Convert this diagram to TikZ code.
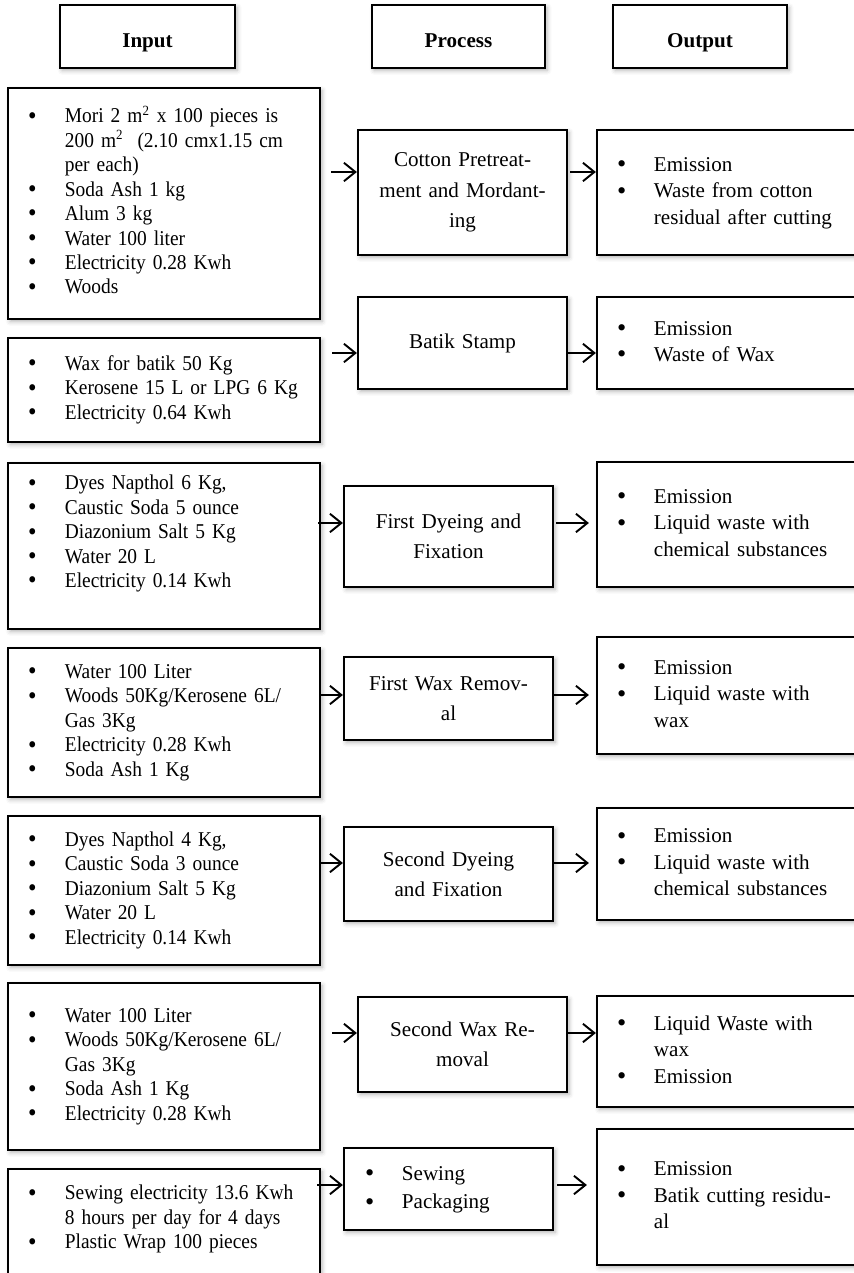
\documentclass[tikz,border=0pt]{standalone}
\usepackage{fontspec}
\setmainfont{Liberation Serif}
\newfontfamily\narrowserif{Liberation Serif}[FakeStretch=0.92]
\usepackage{tikz}
\usetikzlibrary{arrows.meta,shadows.blur}
% bullet lists inside the boxes
\newenvironment{bullets}{\begin{tabular}{@{}p{21pt}@{}l@{}}}{\end{tabular}}
\newcommand{\bu}{\raisebox{-0.8pt}{\fontsize{15}{15}\selectfont\textbullet}}

\begin{document}
\begin{tikzpicture}[x=0.02cm,y=-0.02cm,
  box/.style={draw, line width=1.3pt, fill=white, rectangle, inner ysep=0pt,
    blur shadow={shadow xshift=1.2pt, shadow yshift=-1.4pt, shadow blur radius=2.5pt, shadow opacity=30}},
  sz/.style 2 args={minimum width=#1*0.02cm, minimum height=#2*0.02cm},
  tall/.style={minimum height=#1*0.02cm},
  head/.style={box, text height=14pt, text depth=2pt, font=\bfseries\fontsize{12}{14}\selectfont},
  inbox/.style={box, text width=5.44cm, inner xsep=0.4cm, align=left, font=\narrowserif\fontsize{12}{13.9}\selectfont},
  outbox/.style={box, text width=4.66cm, inner xsep=0.4cm, align=left, font=\fontsize{12}{15}\selectfont},
  procbox/.style={box, text width=3.86cm, inner xsep=0.16cm, align=center, font=\fontsize{12}{17.3}\selectfont},
  arr/.style={-{Straight Barb[length=6.5pt,width=10.5pt]}, line width=1.1pt}]
\useasboundingbox (0,0) rectangle (854,1273);
%
% column heads
\node[head, sz={175}{63}] (hin)  at (147.5,36.5) {Input};
\node[head, sz={173}{63}] (hpr)  at (458.5,36.5) {Process};
\node[head, sz={174}{63}] (hout) at (700,36.5)   {Output};
%
% inputs
\node[inbox, tall=231] (in1) at (164,203.5) {\begin{bullets}
\bu & Mori 2 m\textsuperscript{2} x 100 pieces is\\
    & 200 m\textsuperscript{2}\ \ (2.10 cmx1.15 cm\\
    & per each)\\
\bu & Soda Ash 1 kg\\
\bu & Alum 3 kg\\
\bu & Water 100 liter\\
\bu & Electricity 0.28 Kwh\\
\bu & Woods
\end{bullets}};
\node[inbox, tall=104] (in2) at (164,390) {\begin{bullets}
\bu & Wax for batik 50 Kg\\
\bu & Kerosene 15 L or LPG 6 Kg\\
\bu & Electricity 0.64 Kwh
\end{bullets}};
\node[inbox, tall=166] (in3) at (164,546) {\begin{bullets}
\bu & Dyes Napthol 6 Kg,\\
\bu & Caustic Soda 5 ounce\\
\bu & Diazonium Salt 5 Kg\\
\bu & Water 20 L\\
\bu & Electricity 0.14 Kwh\\
    & 
\end{bullets}};
\node[inbox, tall=149] (in4) at (164,722.5) {\begin{bullets}
\bu & Water 100 Liter\\
\bu & Woods 50Kg/Kerosene 6L/\\
    & Gas 3Kg\\
\bu & Electricity 0.28 Kwh\\
\bu & Soda Ash 1 Kg
\end{bullets}};
\node[inbox, tall=149] (in5) at (164,890.5) {\begin{bullets}
\bu & Dyes Napthol 4 Kg,\\
\bu & Caustic Soda 3 ounce\\
\bu & Diazonium Salt 5 Kg\\
\bu & Water 20 L\\
\bu & Electricity 0.14 Kwh
\end{bullets}};
\node[inbox, tall=167] (in6) at (164,1066.5) {\begin{bullets}
\bu & Water 100 Liter\\
\bu & Woods 50Kg/Kerosene 6L/\\
    & Gas 3Kg\\
\bu & Soda Ash 1 Kg\\
\bu & Electricity 0.28 Kwh
\end{bullets}};
\node[inbox, tall=125] (in7) at (164,1231.5) {\begin{bullets}
\bu & Sewing electricity 13.6 Kwh\\
    & 8 hours per day for 4 days\\
\bu & Plastic Wrap 100 pieces\\
    & 
\end{bullets}};
%
% process steps
\node[procbox, tall=125] (pr1) at (462.5,192.5) {Cotton Pretreat-\\ment and Mordant-\\ing};
\node[procbox, tall=92]  (pr2) at (462.5,343)   {Batik Stamp};
\node[procbox, tall=101] (pr3) at (448.5,536.5) {First Dyeing and\\Fixation};
\node[procbox, tall=83]  (pr4) at (448.5,698.5) {First Wax Remov-\\al};
\node[procbox, tall=94]  (pr5) at (448.5,874)   {Second Dyeing\\and Fixation};
\node[procbox, tall=95]  (pr6) at (462.5,1044.5) {Second Wax Re-\\moval};
\node[procbox, tall=82, text width=3.34cm, inner xsep=0.42cm, align=left,
  font=\fontsize{12}{16}\selectfont] (pr7) at (448.5,1189) {\begin{bullets}
\bu & Sewing\\
\bu & Packaging
\end{bullets}};
%
% outputs
\node[outbox, tall=125] (out1) at (733.5,192.5) {\begin{bullets}
\bu & Emission\\
\bu & Waste from cotton\\
    & residual after cutting
\end{bullets}};
\node[outbox, tall=92] (out2) at (733.5,343) {\begin{bullets}
\bu & Emission\\
\bu & Waste of Wax
\end{bullets}};
\node[outbox, tall=125] (out3) at (733.5,524.5) {\begin{bullets}
\bu & Emission\\
\bu & Liquid waste with\\
    & chemical substances
\end{bullets}};
\node[outbox, tall=117] (out4) at (733.5,695.5) {\begin{bullets}
\bu & Emission\\
\bu & Liquid waste with\\
    & wax
\end{bullets}};
\node[outbox, tall=112] (out5) at (733.5,864) {\begin{bullets}
\bu & Emission\\
\bu & Liquid waste with\\
    & chemical substances
\end{bullets}};
\node[outbox, tall=111] (out6) at (733.5,1051.5) {\begin{bullets}
\bu & Liquid Waste with\\
    & wax\\
\bu & Emission
\end{bullets}};
\node[outbox, tall=136] (out7) at (733.5,1197) {\begin{bullets}
\bu & Emission\\
\bu & Batik cutting residu-\\
    & al
\end{bullets}};
%
% arrow rows
\coordinate (r1) at (0,172);
\coordinate (r2) at (0,353);
\coordinate (r3) at (0,523);
\coordinate (r4) at (0,695);
\coordinate (r5) at (0,863);
\coordinate (r6) at (0,1033);
\coordinate (r7) at (0,1185);
%
\draw[arr, shorten <=0.2cm]  (in1.east |- r1) -- (pr1.west |- r1);
\draw[arr, shorten <=0.04cm] (pr1.east |- r1) -- (out1.west |- r1);
\draw[arr, shorten <=0.22cm] (in2.east |- r2) -- (pr2.west |- r2);
\draw[arr]                   (pr2.east |- r2) -- (out2.west |- r2);
\draw[arr, shorten <=-0.06cm] (in3.east |- r3) -- (pr3.west |- r3);
\draw[arr, shorten <=0.04cm, shorten >=0.14cm] (pr3.east |- r3) -- (out3.west |- r3);
\draw[arr, shorten <=-0.04cm] (in4.east |- r4) -- (pr4.west |- r4);
\draw[arr, shorten >=0.14cm] (pr4.east |- r4) -- (out4.west |- r4);
\draw[arr, shorten <=-0.04cm] (in5.east |- r5) -- (pr5.west |- r5);
\draw[arr, shorten >=0.14cm] (pr5.east |- r5) -- (out5.west |- r5);
\draw[arr, shorten <=0.22cm] (in6.east |- r6) -- (pr6.west |- r6);
\draw[arr]                   (pr6.east |- r6) -- (out6.west |- r6);
\draw[arr, shorten <=-0.08cm] (in7.east |- r7) -- (pr7.west |- r7);
\draw[arr, shorten <=0.06cm, shorten >=0.18cm] (pr7.east |- r7) -- (out7.west |- r7);
\end{tikzpicture}
\end{document}
